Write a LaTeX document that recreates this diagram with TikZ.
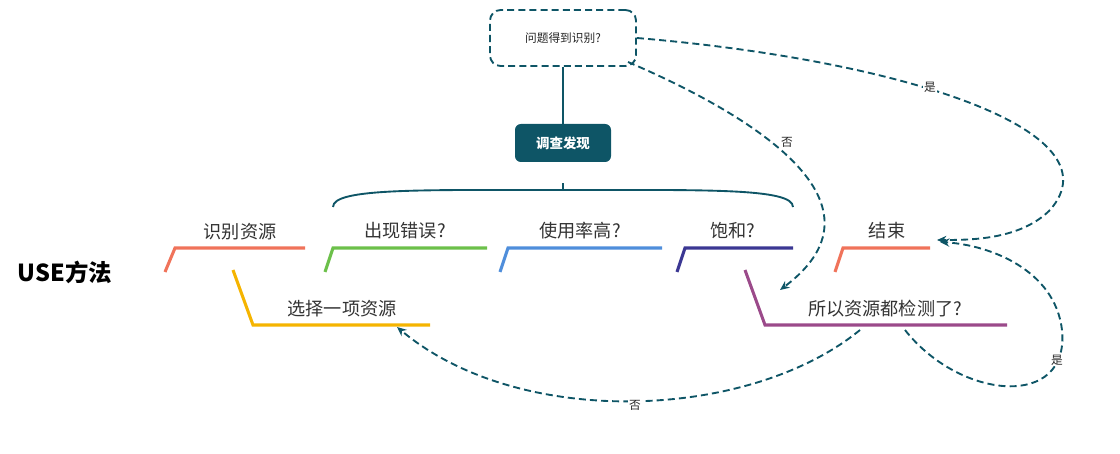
\documentclass[tikz,border=0pt]{standalone}
\usepackage{fontspec}
\setmainfont{Noto Sans CJK SC}
\usetikzlibrary{arrows.meta,decorations.pathreplacing}
\definecolor{teal}{HTML}{0E5566}
\definecolor{cRed}{HTML}{F0735A}
\definecolor{cGreen}{HTML}{6CC04A}
\definecolor{cBlue}{HTML}{4F8EDB}
\definecolor{cPurple}{HTML}{3B3793}
\definecolor{cYellow}{HTML}{F5B400}
\definecolor{cPlum}{HTML}{9B4A8A}
\tikzset{
  branch/.style={line width=2.6pt},
  lbl/.style={font=\fontsize{15.5}{17}\selectfont, text=black!80},
  small/.style={font=\fontsize{10}{11}\selectfont, text=black!85},
  flow/.style={draw=teal, line width=1.6pt, dash pattern=on 6pt off 3.5pt, -{Stealth[length=8pt,width=7pt]}},
}
\begin{document}
\begin{tikzpicture}[x=0.03cm,y=-0.03cm]
\useasboundingbox (0,0) rectangle (1120,454);

\node[font=\fontsize{20}{22}\selectfont\bfseries] (use) at (65,272) {USE方法};

% branches
\draw[branch,cRed] (165,272) -- (175,248) -- (305,248);
\node[lbl] (ident) at (240,232) {识别资源};
\draw[branch,cGreen] (325,272) -- (333,248) -- (487,248);
\node[lbl] (err) at (405,231) {出现错误?};
\draw[branch,cBlue] (500,272) -- (508,248) -- (662,248);
\node[lbl] (util) at (580,231) {使用率高?};
\draw[branch,cPurple] (677,272) -- (685,248) -- (793,248);
\node[lbl] (sat) at (733,231) {饱和?};
\draw[branch,cRed] (835,272) -- (843,248) -- (930,248);
\node[lbl] (done) at (887,231) {结束};
\draw[branch,cYellow] (233,270) -- (253,325) -- (430,325);
\node[lbl] (pick) at (342,309) {选择一项资源};
\draw[branch,cPlum] (745,270) -- (765,325) -- (1007,325);
\node[lbl] (all) at (885,309) {所以资源都检测了?};

% top part
\node[draw=teal, line width=1.6pt, dash pattern=on 6pt off 3.5pt, rounded corners=9pt,
  minimum width=146*0.03cm, minimum height=56*0.03cm, small] (found) at (563,38) {问题得到识别?};
\node[fill=teal, text=white, rounded corners=5pt, font=\fontsize{11.5}{13}\selectfont\bfseries,
  minimum width=96*0.03cm, minimum height=38*0.03cm] (inv) at (563,143) {调查发现};
\draw[teal, line width=1.6pt] (found.south) -- (inv.north);
\draw[teal, line width=1.6pt] (333,207) .. controls (333,188) and (420,190) .. (563,190)
  .. controls (706,190) and (793,188) .. (793,207);
\draw[teal, line width=1.6pt] (563,183) -- (563,190);
\coordinate (doneR) at (937,240);
\coordinate (allA) at (780,290);

% flows
\draw[flow] (found.east) .. controls (900,60) and (1120,130) .. (1050,210)
  .. controls (1020,240) and (970,240) .. (doneR);
\node[small,fill=white,inner sep=1pt] (yes1) at (930,87) {是};
\draw[flow] (628,62) .. controls (740,110) and (900,200) .. (allA);
\node[small,fill=white,inner sep=1pt] (no1) at (787,142) {否};
\draw[flow] (905,330) .. controls (960,400) and (1070,410) .. (1062,330)
  .. controls (1055,270) and (990,245) .. (940,242);
\node[small,fill=white,inner sep=1pt] (yes2) at (1057,360) {是};
\draw[flow] (860,330) .. controls (750,420) and (520,430) .. (397,327);
\node[small,fill=white,inner sep=1pt] (no2) at (635,405) {否};
\end{tikzpicture}
\end{document}
